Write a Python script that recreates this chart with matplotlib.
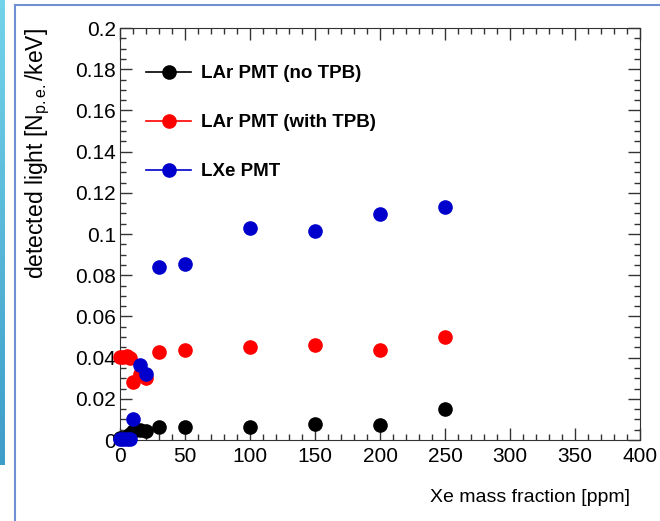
import numpy as np
import matplotlib
matplotlib.use("Agg")
import matplotlib.pyplot as plt
from matplotlib.ticker import MultipleLocator, FuncFormatter
from matplotlib.lines import Line2D

plt.rcParams.update({
    "font.family": ["Liberation Sans", "DejaVu Sans"],
    "mathtext.fontset": "custom",
    "mathtext.rm": "Liberation Sans",
    "mathtext.it": "Liberation Sans",
})

# ---- data ----
xe_ppm = [0, 2, 5, 8, 10, 15, 20, 30, 50, 100, 150, 200, 250]
lar_no_tpb = [0.0008, 0.001, 0.0015, 0.003, 0.0045, 0.005, 0.0044, 0.0065, 0.0065, 0.0065, 0.0078, 0.0072, 0.0150]
lar_tpb = [0.0405, 0.0405, 0.0408, 0.0400, 0.0280, 0.0320, 0.0300, 0.0428, 0.0437, 0.0450, 0.0460, 0.0437, 0.0500]
lxe = [0.0005, 0.0005, 0.0005, 0.0005, 0.0100, 0.0365, 0.0320, 0.0840, 0.0852, 0.1027, 0.1015, 0.1096, 0.1129]

labels = ["LAr PMT (no TPB)", "LAr PMT (with TPB)", "LXe PMT"]
colors = ["black", "#ff0000", "#0000cc"]

W, H = 660, 521
fig = plt.figure(figsize=(W / 100, H / 100), dpi=100)

# slide decoration: gradient strip on the left + thin frame
grad = fig.add_axes([0, 1 - 465 / H, 5 / W, 465 / H])
grad.imshow(np.linspace(0, 1, 100).reshape(-1, 1), aspect="auto",
            cmap=matplotlib.colors.LinearSegmentedColormap.from_list("g", ["#72d4ea", "#3d9dc9"]))
grad.axis("off")
fig.add_artist(Line2D([14.5 / W, 14.5 / W], [0, 1 - 4.5 / H], color="#6f90d2", lw=1.5))
fig.add_artist(Line2D([14.5 / W, 1], [1 - 4.5 / H, 1 - 4.5 / H], color="#6f90d2", lw=1.5))

ax = fig.add_axes([120 / W, 1 - 440 / H, 520 / W, 412 / H])
handles = []
for ys, c, lab in zip([lar_no_tpb, lar_tpb, lxe], colors, labels):
    ax.plot(xe_ppm, ys, "o", color=c, ms=9.5, mec=c, clip_on=False, zorder=3)
    handles.append(Line2D([], [], color=c, marker="o", ms=9.5, lw=1.2, label=lab))

ax.set_xlim(0, 400)
ax.set_ylim(0, 0.2)
ax.xaxis.set_major_locator(MultipleLocator(50))
ax.xaxis.set_minor_locator(MultipleLocator(10))
ax.yaxis.set_major_locator(MultipleLocator(0.02))
ax.yaxis.set_minor_locator(MultipleLocator(0.005))
ax.yaxis.set_major_formatter(FuncFormatter(lambda v, p: f"{round(v, 3):g}"))
ax.tick_params(which="both", direction="in", top=True, right=True, color="#333333", labelsize=15)
ax.tick_params(which="major", length=8.6, width=1)
ax.tick_params(which="minor", length=4.3, width=1)
ax.tick_params(axis="x", pad=5)
ax.tick_params(axis="y", pad=3)
for s in ax.spines.values():
    s.set_color("#333333")

ax.set_xlabel("Xe mass fraction [ppm]", fontsize=14, loc="right")
ax.xaxis.set_label_coords((630 - 120) / 520, -0.12)
ax.set_ylabel(r"detected light [N$_{\mathrm{p.e.}}$/keV]", fontsize=16.5, loc="top")
ax.yaxis.set_label_coords(-0.13, 1.0)

leg = ax.legend(handles=handles, loc="upper left", bbox_to_anchor=(146 / W, 1 - 65 / H),
                bbox_transform=fig.transFigure, frameon=False, borderpad=0, borderaxespad=0,
                handlelength=2.4, handletextpad=0.55, labelspacing=1.7,
                prop={"weight": "bold", "size": 13.5})

fig.savefig("out.png", dpi=100)
